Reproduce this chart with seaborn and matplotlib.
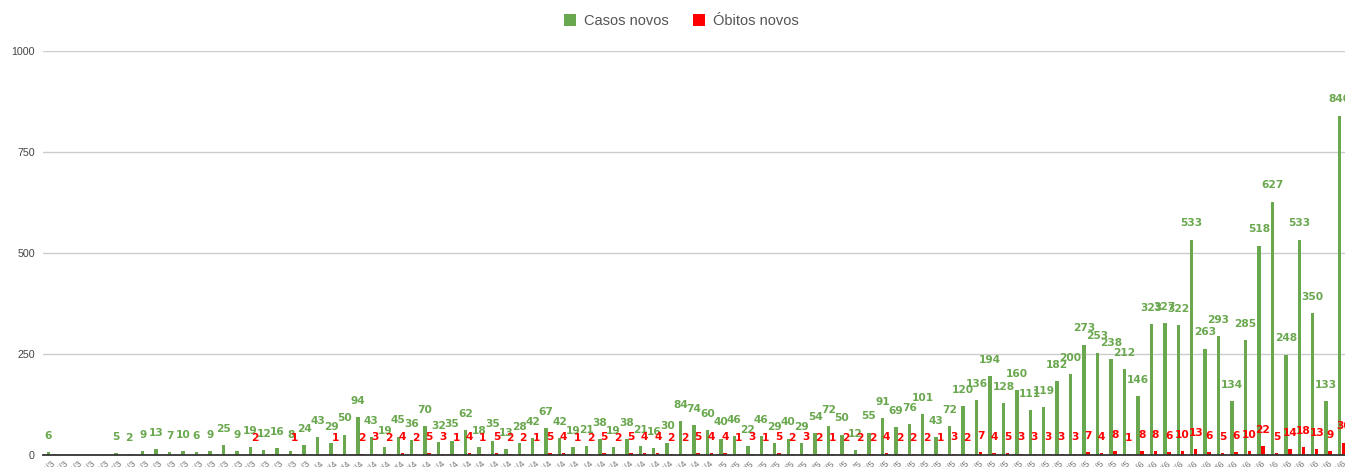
import matplotlib
matplotlib.use("Agg")
import matplotlib.pyplot as plt
import pandas as pd
import seaborn as sns

# Dates (12/3 to 16/6), daily
dates = [f"{d.day}/{d.month}" for d in pd.date_range("2020-03-12", "2020-06-16", freq="D")]

casos_marco = [6, 0, 0, 0, 0, 5, 2, 9, 13, 7, 10, 6, 9, 25, 9, 19, 12, 16, 8, 24]
casos_abril = [43, 29, 50, 94, 43, 19, 45, 36, 70, 32, 35, 62, 18, 35, 13, 28, 42, 67, 42, 19,
               21, 38, 19, 38, 21, 16, 30, 84, 74, 60]
casos_maio = [40, 46, 22, 46, 29, 40, 29, 54, 72, 50, 12, 55, 91, 69, 76, 101, 43, 72, 120, 136,
              194, 128, 160, 111, 119, 182, 200, 273, 253, 238, 212]
casos_junho = [146, 323, 327, 322, 533, 263, 293, 134, 285, 518, 627, 248, 533, 350, 133, 840]

obitos_marco = [0, 0, 0, 0, 0, 0, 0, 0, 0, 0, 0, 0, 0, 0, 0, 2, 0, 0, 1, 0]
obitos_abril = [0, 1, 0, 2, 3, 2, 4, 2, 5, 3, 1, 4, 1, 5, 2, 2, 1, 5, 4, 1,
                2, 5, 2, 5, 4, 4, 2, 2, 5, 4]
obitos_maio = [4, 1, 3, 1, 5, 2, 3, 2, 1, 2, 2, 2, 4, 2, 2, 2, 1, 3, 2, 7,
               4, 5, 3, 3, 3, 3, 3, 7, 4, 8, 1]
obitos_junho = [8, 8, 6, 10, 13, 6, 5, 6, 10, 22, 5, 14, 18, 13, 9, 30]

casos = casos_marco + casos_abril + casos_maio + casos_junho
obitos = obitos_marco + obitos_abril + obitos_maio + obitos_junho

series = ["Casos novos", "Óbitos novos"]
GREEN = "#6aa84f"
RED = "#ff0000"
yticks = [0, 250, 500, 750, 1000]

n = len(dates)
df = pd.DataFrame({
    "data": dates * 2,
    "serie": [series[0]] * n + [series[1]] * n,
    "valor": casos + obitos,
})

sns.set_theme(style="white")
plt.rcParams["font.family"] = ["Liberation Sans", "DejaVu Sans"]

fig = plt.figure(figsize=(13.45, 4.67), dpi=100)
ax = fig.add_axes([0.032, 0.0263, 0.968, 0.8645])

sns.barplot(data=df, x="data", y="valor", hue="serie", order=dates, hue_order=series,
            palette=[GREEN, RED], saturation=1, width=0.6, gap=0.15, errorbar=None,
            linewidth=0, ax=ax)

for cont, vals, col in zip(ax.containers, [casos, obitos], [GREEN, RED]):
    ax.bar_label(cont, labels=[str(v) if v else "" for v in vals], padding=8, color=col,
                 fontsize=7.7, fontweight="bold", family="DejaVu Sans")

ax.set_xlim(-0.56, n - 1 + 0.25)
ax.set_ylim(0, 1000)
ax.set_yticks(yticks)
ax.set_yticklabels([str(t) for t in yticks])
ax.set_xlabel("")
ax.set_ylabel("")
ax.yaxis.grid(True, color="#cccccc", lw=1)
ax.set_axisbelow(True)
for s in ["top", "left", "right"]:
    ax.spines[s].set_visible(False)
ax.spines["bottom"].set_color("#333333")
ax.spines["bottom"].set_linewidth(1.3)

ax.tick_params(axis="y", labelsize=7.7, labelcolor="#444444", length=0, pad=6)
ax.tick_params(axis="x", labelsize=6.5, labelcolor="#777777", length=0, pad=3)
for lbl in ax.get_xticklabels():
    lbl.set_rotation(45)
    lbl.set_ha("right")
    lbl.set_rotation_mode("anchor")

handles, labels = ax.get_legend_handles_labels()
if ax.get_legend() is not None:
    ax.get_legend().remove()
leg = fig.legend(handles, labels, loc="center", bbox_to_anchor=(0.5067, 0.955), ncol=2,
                 frameon=False, fontsize=10.5, handlelength=0.82, handleheight=0.82,
                 handletextpad=0.55, columnspacing=1.7)
for t in leg.get_texts():
    t.set_color("#555555")

fig.savefig("out.png", dpi=100)
